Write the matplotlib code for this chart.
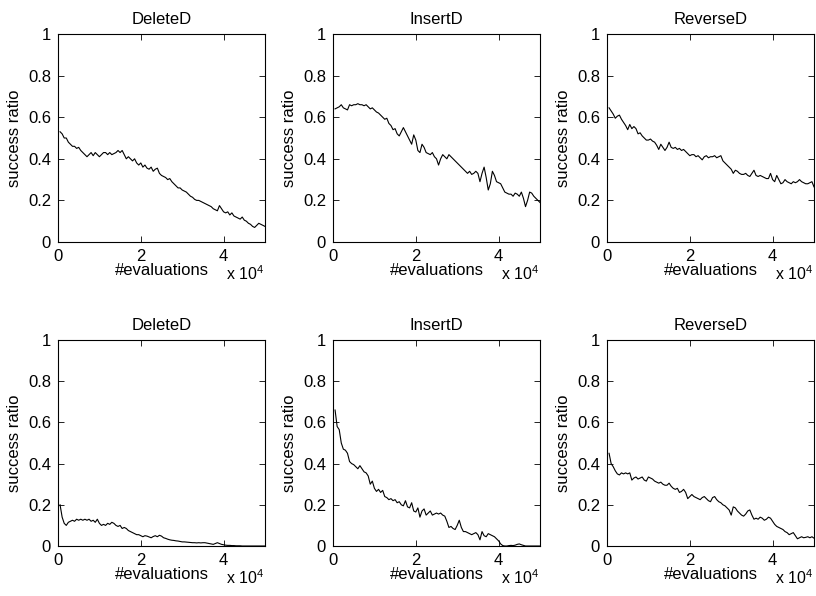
import numpy as np
import matplotlib
matplotlib.use("Agg")
import matplotlib.pyplot as plt

plt.rcParams['font.family'] = ['Liberation Sans', 'DejaVu Sans']
plt.rcParams['mathtext.fontset'] = 'custom'
plt.rcParams['mathtext.rm'] = 'Liberation Sans'

# evaluation grid (every 500 evaluations)
evaluations = np.arange(500, 50001, 500)

titles = ["DeleteD", "InsertD", "ReverseD", "DeleteD", "InsertD", "ReverseD"]
x_ticks = [0, 20000, 40000]
x_tick_labels = ["0", "2", "4"]
y_ticks = [0, 0.2, 0.4, 0.6, 0.8, 1]
y_tick_labels = ["0", "0.2", "0.4", "0.6", "0.8", "1"]

top_delete = [0.53, 0.52, 0.50, 0.50, 0.48, 0.47, 0.46, 0.46, 0.45, 0.455,
              0.44, 0.43, 0.42, 0.41, 0.42, 0.43, 0.415, 0.43, 0.42, 0.41,
              0.42, 0.43, 0.43, 0.42, 0.43, 0.42, 0.425, 0.43, 0.44, 0.43,
              0.44, 0.42, 0.40, 0.41, 0.40, 0.39, 0.40, 0.38, 0.37, 0.38,
              0.36, 0.37, 0.355, 0.35, 0.36, 0.34, 0.35, 0.355, 0.33, 0.32,
              0.315, 0.31, 0.30, 0.305, 0.29, 0.28, 0.27, 0.26, 0.26, 0.25,
              0.245, 0.24, 0.23, 0.22, 0.215, 0.205, 0.20, 0.20, 0.195, 0.19,
              0.185, 0.18, 0.175, 0.17, 0.16, 0.155, 0.15, 0.175, 0.16, 0.145,
              0.14, 0.145, 0.13, 0.14, 0.125, 0.12, 0.115, 0.11, 0.12, 0.105,
              0.10, 0.09, 0.085, 0.075, 0.07, 0.08, 0.09, 0.085, 0.08, 0.075]

top_insert = [0.64, 0.645, 0.65, 0.66, 0.645, 0.64, 0.635, 0.66, 0.655, 0.66,
              0.66, 0.665, 0.66, 0.66, 0.655, 0.66, 0.65, 0.64, 0.645, 0.635,
              0.625, 0.62, 0.61, 0.60, 0.59, 0.595, 0.57, 0.56, 0.54, 0.545,
              0.52, 0.51, 0.53, 0.55, 0.53, 0.51, 0.49, 0.47, 0.515, 0.49,
              0.44, 0.43, 0.47, 0.455, 0.43, 0.425, 0.42, 0.43, 0.41, 0.40,
              0.37, 0.40, 0.42, 0.41, 0.40, 0.42, 0.41, 0.40, 0.39, 0.38,
              0.37, 0.36, 0.35, 0.34, 0.33, 0.34, 0.325, 0.33, 0.34, 0.33,
              0.29, 0.33, 0.36, 0.31, 0.25, 0.28, 0.34, 0.32, 0.29, 0.285,
              0.28, 0.26, 0.24, 0.235, 0.23, 0.23, 0.22, 0.235, 0.23, 0.22,
              0.24, 0.21, 0.17, 0.20, 0.24, 0.235, 0.22, 0.21, 0.20, 0.19]

top_reverse = [0.645, 0.63, 0.615, 0.595, 0.605, 0.61, 0.59, 0.575, 0.56, 0.54,
               0.565, 0.545, 0.555, 0.545, 0.52, 0.525, 0.51, 0.50, 0.49, 0.49,
               0.495, 0.485, 0.48, 0.465, 0.445, 0.47, 0.455, 0.44, 0.455, 0.48,
               0.455, 0.45, 0.455, 0.445, 0.45, 0.44, 0.445, 0.435, 0.425, 0.415,
               0.42, 0.42, 0.41, 0.415, 0.405, 0.395, 0.41, 0.415, 0.405, 0.41,
               0.41, 0.415, 0.405, 0.41, 0.415, 0.39, 0.38, 0.37, 0.36, 0.35,
               0.33, 0.345, 0.34, 0.33, 0.325, 0.325, 0.33, 0.32, 0.315, 0.33,
               0.345, 0.32, 0.315, 0.32, 0.315, 0.31, 0.305, 0.305, 0.33, 0.30,
               0.29, 0.32, 0.30, 0.28, 0.285, 0.30, 0.29, 0.285, 0.28, 0.29,
               0.285, 0.29, 0.30, 0.29, 0.285, 0.28, 0.28, 0.285, 0.29, 0.265]

bottom_delete = [0.20, 0.14, 0.11, 0.10, 0.115, 0.12, 0.125, 0.12, 0.13, 0.125,
                 0.13, 0.125, 0.13, 0.125, 0.13, 0.12, 0.125, 0.115, 0.13, 0.11,
                 0.10, 0.105, 0.10, 0.11, 0.105, 0.115, 0.11, 0.10, 0.095, 0.10,
                 0.085, 0.09, 0.085, 0.075, 0.07, 0.065, 0.06, 0.055, 0.055, 0.05,
                 0.045, 0.05, 0.048, 0.044, 0.04, 0.046, 0.05, 0.045, 0.052, 0.048,
                 0.04, 0.037, 0.033, 0.03, 0.028, 0.027, 0.025, 0.024, 0.022, 0.02,
                 0.02, 0.019, 0.018, 0.017, 0.016, 0.016, 0.015, 0.016, 0.015, 0.016,
                 0.016, 0.014, 0.012, 0.01, 0.008, 0.012, 0.016, 0.012, 0.008, 0.006,
                 0.004, 0.003, 0.003, 0.002, 0.002, 0.001, 0.001, 0.001, 0.0, 0.0,
                 0.0, 0.0, 0.0, 0.0, 0.0, 0.0, 0.0, 0.0, 0.0, 0.0]

bottom_insert = [0.66, 0.58, 0.565, 0.50, 0.47, 0.465, 0.45, 0.41, 0.40, 0.395,
                 0.385, 0.375, 0.39, 0.375, 0.36, 0.355, 0.34, 0.30, 0.315, 0.28,
                 0.265, 0.275, 0.26, 0.27, 0.24, 0.235, 0.225, 0.23, 0.22, 0.225,
                 0.21, 0.215, 0.20, 0.195, 0.22, 0.19, 0.185, 0.21, 0.17, 0.165,
                 0.185, 0.14, 0.17, 0.18, 0.15, 0.16, 0.17, 0.15, 0.155, 0.16,
                 0.155, 0.16, 0.15, 0.145, 0.12, 0.09, 0.095, 0.085, 0.08, 0.10,
                 0.125, 0.09, 0.07, 0.07, 0.065, 0.06, 0.055, 0.06, 0.065, 0.055,
                 0.03, 0.07, 0.05, 0.045, 0.06, 0.055, 0.05, 0.045, 0.035, 0.025,
                 0.01, 0.002, 0.0, 0.0, 0.002, 0.003, 0.002, 0.004, 0.008, 0.01,
                 0.006, 0.003, 0.0, 0.0, 0.0, 0.0, 0.0, 0.0, 0.0, 0.0]

bottom_reverse = [0.45, 0.40, 0.385, 0.365, 0.35, 0.345, 0.355, 0.35, 0.355, 0.35,
                  0.355, 0.32, 0.33, 0.335, 0.325, 0.33, 0.335, 0.32, 0.315, 0.335,
                  0.33, 0.325, 0.315, 0.31, 0.305, 0.31, 0.30, 0.295, 0.295, 0.305,
                  0.29, 0.28, 0.275, 0.28, 0.26, 0.265, 0.275, 0.26, 0.23, 0.24,
                  0.25, 0.24, 0.235, 0.23, 0.225, 0.235, 0.24, 0.23, 0.22, 0.215,
                  0.235, 0.24, 0.225, 0.215, 0.21, 0.20, 0.195, 0.185, 0.175, 0.15,
                  0.19, 0.185, 0.17, 0.16, 0.15, 0.145, 0.155, 0.17, 0.175, 0.15,
                  0.13, 0.135, 0.13, 0.14, 0.135, 0.125, 0.13, 0.14, 0.135, 0.12,
                  0.105, 0.095, 0.09, 0.085, 0.08, 0.07, 0.065, 0.055, 0.06, 0.065,
                  0.05, 0.035, 0.04, 0.045, 0.04, 0.042, 0.045, 0.04, 0.045, 0.038]

series = [top_delete, top_insert, top_reverse,
          bottom_delete, bottom_insert, bottom_reverse]

fig = plt.figure(figsize=(8.16, 5.96), dpi=100)
lefts = [58 / 816, 333 / 816, 607 / 816]
width = 207 / 816
rows = [(1 - 242 / 596, 208 / 596), (1 - 546 / 596, 206 / 596)]

FS = 12
for i, (title, vals) in enumerate(zip(titles, series)):
    r, c = divmod(i, 3)
    bottom, height = rows[r]
    ax = fig.add_axes([lefts[c], bottom, width, height])
    ax.plot(evaluations, vals, color='black', lw=0.8)
    ax.set_xlim(0, 50000)
    ax.set_ylim(0, 1)
    ax.set_xticks(x_ticks)
    ax.set_xticklabels(x_tick_labels)
    ax.set_yticks(y_ticks)
    ax.set_yticklabels(y_tick_labels)
    ax.tick_params(direction='in', top=True, right=True, length=4,
                   width=0.6, labelsize=FS, pad=5)
    for s in ax.spines.values():
        s.set_linewidth(0.8)
    ax.set_title(title, fontsize=FS, pad=7)
    ax.set_xlabel('#evaluations', fontsize=FS, labelpad=-1)
    ax.set_ylabel('success ratio', fontsize=FS, labelpad=4)
    ax.text(0.995, -0.185, r'x 10$\mathregular{^4}$', transform=ax.transAxes,
            ha='right', va='baseline', fontsize=FS * 0.95)

fig.savefig('out.png', dpi=100)
